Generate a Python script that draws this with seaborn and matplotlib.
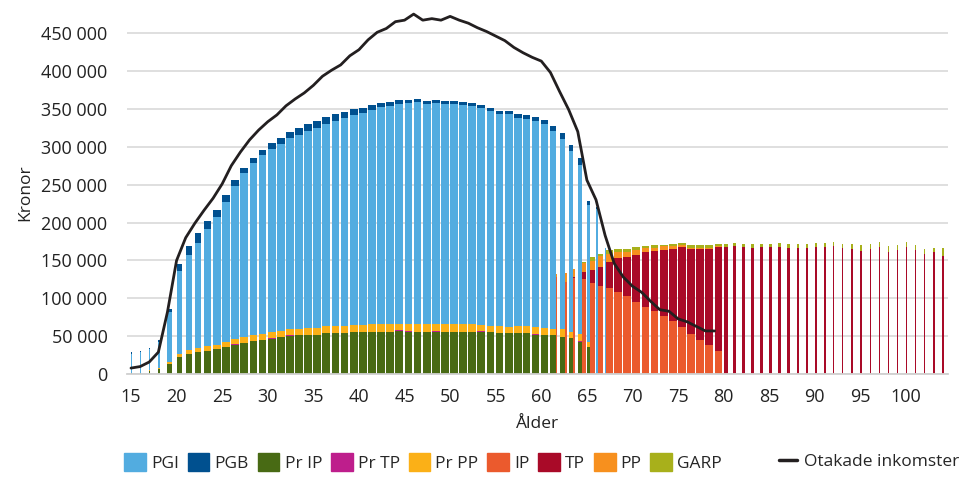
import matplotlib
matplotlib.use("Agg")
import matplotlib.pyplot as plt
import seaborn as sns
import numpy as np
import pandas as pd
from matplotlib.patches import Patch
from matplotlib.lines import Line2D
from matplotlib.ticker import FuncFormatter

# --- data (kronor) ---------------------------------------------------------
inc_ages = list(range(15, 68))
pgi = [25.1, 27.5, 28.5, 34.6, 66.7, 109.5, 124.9, 139, 154.4, 167.6,
       183.8, 201.4, 215.9, 226.4, 235.9, 241.5, 246.6, 252.8, 255.7, 260.2,
       263.3, 266.7, 270.2, 274, 277.5, 279.9, 282.9, 287.2, 288.2, 290.2,
       292, 292.5, 291, 292, 291, 291, 289.5, 288.5, 286.5, 283,
       279, 280, 274.7, 273.7, 271.7, 268.7, 260.4, 251, 238, 223.2,
       180.2, 218.5, 166]
pgb = [1.5, 1.5, 1.5, 2, 3.5, 8.8, 12, 12.4, 11, 9.3,
       9.3, 8, 6.6, 6.6, 6.6, 8, 8.4, 8, 9.3, 9.3,
       9.7, 8.8, 9.3, 8, 8, 6.6, 6.6, 5.3, 5.3, 5.3,
       4, 4, 4, 4, 4, 4, 4, 4, 4, 4,
       4, 4, 5.3, 5.3, 5.3, 5.3, 6.6, 8, 8, 9.3,
       5.3, 2.5, 0]
pr_ip = [1, 1, 4, 7, 12.8, 22, 26.4, 29, 31, 33.5,
         36, 39, 41.5, 44, 45.5, 47, 48.5, 50.7, 51, 51.5,
         52, 54, 54, 54, 55, 55, 56, 56, 56, 57,
         56, 56, 56, 56, 56, 56, 56, 56, 56, 55,
         54, 54, 54, 54, 52, 52, 51, 49.5, 47.5, 42,
         35.5, 0, 0]
pr_tp = [0, 0, 0, 0, 0, 0, 0.8, 0, 0, 0,
         0, 0.8, 0, 0, 0, 0.8, 0.8, 0.8, 0, 0,
         0, 0, 0, 0.8, 0, 0, 0, 0, 0, 0.8,
         0.8, 0, 0, 0.8, 0, 0, 0, 0, 0.5, 0,
         0.8, 0.8, 0, 0, 0.8, 0, 0, 0, 0, 1.8,
         0, 0, 0]
pr_pp = [1, 1, 1, 1.4, 3, 4.7, 4.5, 5.6, 5.6, 5.6,
         6.9, 6.6, 8, 8, 8, 7.5, 7.5, 7.5, 9, 9,
         9.5, 9.5, 9.5, 9, 9.5, 9.5, 9.5, 9.5, 9.5, 8.5,
         9, 10.5, 9.5, 9, 9.5, 9.5, 9.5, 9.5, 8, 9,
         9, 8, 9, 9, 9, 9, 9, 9.5, 8.5, 9.5,
         7, 0, 0]
# relative number of recipients (drives bar width)
inc_weight = ([0.14, 0.14, 0.14, 0.26, 0.62, 0.7, 0.8, 0.85, 0.92] + [1.0] * 34
              + [0.9, 0.9, 0.88, 0.66, 0.66, 0.6, 0.6, 0.4, 0.2, 0.07])

pen_ages = list(range(61, 105))
ip = [128, 121, 127, 126, 120, 116, 113, 108, 103, 95,
      88, 83, 76.5, 70, 62, 53, 45, 38, 30.5] + [1] * 25
tp = [0, 1, 1, 9, 17, 25.5, 35, 45.5, 51, 62,
      72.5, 79, 87, 95.5, 106, 112, 120, 127, 137,
      167, 168, 167, 165.5, 167, 167, 167, 165.5, 165.5, 165.5,
      167, 167, 168, 165.5, 164, 161.5, 164, 167, 160.5, 162.5,
      167, 162.5, 157, 160.5, 155]
pp = [4, 12, 11, 12, 12.5, 14, 11, 7.5, 7, 7,
      5.5, 5, 5, 3, 2, 2, 1.5, 1.5, 1] + [0] * 25
garp = [0, 0, 0, 0.5, 4.5, 3.5, 4.5, 3.5, 4, 3.5,
        3, 3, 2.5, 3, 2.5, 3, 3.5, 3.5, 3.5,
        3.5, 4, 3.5, 5, 3.5, 3.5, 5, 5, 5, 5,
        5, 5, 5.5, 5.5, 6.5, 7.5, 6.5, 6, 7.5, 6.5,
        6, 6.5, 6.5, 5, 10]
pen_weight = ([0.22, 0.25, 0.25, 0.4, 0.6, 0.75, 0.93] + [1.0] * 12
              + [0.5, 0.48, 0.44, 0.4, 0.38, 0.35, 0.3, 0.29, 0.28, 0.27, 0.23, 0.21]
              + [0.16] * 13)

line_ages = list(range(15, 80))
otakade = [8, 10, 16, 29, 82, 150, 180, 199, 216, 232,
           251, 275, 293, 309, 322, 333, 342, 354, 363, 371,
           381, 393, 401, 408, 420, 428, 441, 451, 456, 465,
           467, 475, 467, 469, 467, 472, 467, 463, 457, 452,
           446, 440, 431, 424, 418, 413, 398, 373, 349, 320,
           256, 230, 183, 146, 128, 116, 108, 96, 85, 83,
           73, 69, 63, 57, 57]

legend_labels = ["PGI", "PGB", "Pr IP", "Pr TP", "Pr PP", "IP", "TP", "PP", "GARP"]
colors = {"PGI": "#52ACE0", "PGB": "#00508F", "Pr IP": "#486A14", "Pr TP": "#BE1E8C",
          "Pr PP": "#FBB017", "IP": "#EB5A2D", "TP": "#A90A28", "PP": "#F7901E",
          "GARP": "#A8B01B"}
# stacking order, bottom to top
inc_stack = ["Pr IP", "Pr TP", "Pr PP", "PGI", "PGB"]
pen_stack = ["IP", "TP", "PP", "GARP"]

# --- plot -------------------------------------------------------------------
sns.set_style("white")
plt.rcParams['font.family'] = ['Open Sans', 'DejaVu Sans']

fig = plt.figure(figsize=(9.62, 4.91), dpi=100)
ax = fig.add_axes([0.132, 0.238, 0.8534, 0.741])

slot = 0.85
inc_df = pd.DataFrame({"age": inc_ages, "PGI": pgi, "PGB": pgb, "Pr IP": pr_ip,
                       "Pr TP": pr_tp, "Pr PP": pr_pp, "w": inc_weight})
pen_df = pd.DataFrame({"age": pen_ages, "IP": ip, "TP": tp, "PP": pp,
                       "GARP": garp, "w": pen_weight})
inc_df["width"] = slot * inc_df["w"]
pen_df = pen_df.merge(inc_df[["age", "width"]].rename(columns={"width": "iw"}),
                      on="age", how="left").fillna({"iw": 0})
pen_df["width"] = slot * pen_df["w"]

# income stack (left part of each age slot)
bottom = np.zeros(len(inc_df))
for lab in inc_stack:
    vals = inc_df[lab].to_numpy() * 1000
    ax.bar(inc_df["age"], vals, width=inc_df["width"], bottom=bottom,
           align="edge", color=colors[lab], linewidth=0)
    bottom += vals

# pension stack (right after the income bar)
bottom = np.zeros(len(pen_df))
for lab in pen_stack:
    vals = pen_df[lab].to_numpy() * 1000
    ax.bar(pen_df["age"] + pen_df["iw"], vals, width=pen_df["width"], bottom=bottom,
           align="edge", color=colors[lab], linewidth=0)
    bottom += vals

line_df = pd.DataFrame({"age": line_ages, "kr": np.array(otakade) * 1000})
sns.lineplot(data=line_df, x="age", y="kr", ax=ax, color="#231F20", lw=2.0)

ax.set_xlim(14.56, 104.6)
ax.set_ylim(0, 480000)
ax.set_yticks(np.arange(0, 450001, 50000))
ax.yaxis.set_major_formatter(FuncFormatter(lambda v, p: f"{int(v):,}".replace(",", " ")))
ax.set_xticks(np.arange(15, 101, 5))
ax.grid(True, axis="y", color="#DCDCDC", linewidth=1.3)
ax.grid(False, axis="x")
ax.set_axisbelow(True)
for s in ["top", "right", "left"]:
    ax.spines[s].set_visible(False)
ax.spines["bottom"].set_color("#D0D0D0")
ax.spines["bottom"].set_linewidth(1.3)
ax.tick_params(axis="y", length=0, pad=14, labelsize=13, colors="#222222")
ax.tick_params(axis="x", length=7, width=1.4, color="#444444", direction="out",
               pad=3, labelsize=13, labelcolor="#222222")
ax.set_xlabel("Ålder", fontsize=12.5, color="#222222", labelpad=7)
ax.set_ylabel("Kronor", fontsize=12.5, color="#222222", labelpad=6)

handles = [Patch(color=colors[l], label=l) for l in legend_labels]
fig.legend(handles=handles, loc="center left", bbox_to_anchor=(0.122, 0.059),
           ncol=9, frameon=False, fontsize=12.5, handlelength=1.25, handleheight=1.25,
           handletextpad=0.3, columnspacing=0.5, borderaxespad=0)
fig.legend(handles=[Line2D([0], [0], color="#231F20", lw=2.5, label="Otakade inkomster")],
           loc="center left", bbox_to_anchor=(0.803, 0.059), frameon=False,
           fontsize=12.5, handlelength=1.0, handletextpad=0.4, borderaxespad=0)

fig.savefig("out.png", dpi=100)
plt.close(fig)
